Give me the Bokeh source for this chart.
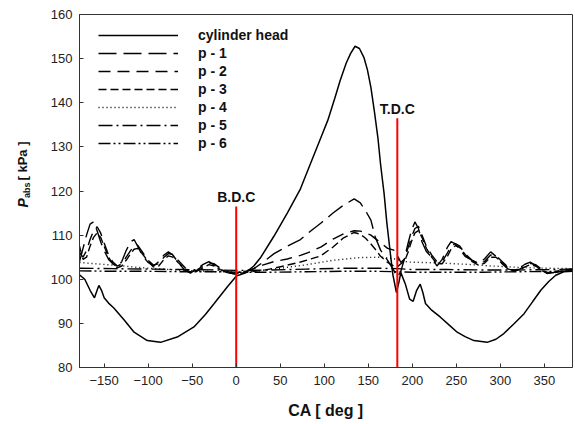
import math
from bokeh.plotting import figure
from bokeh.layouts import row
from bokeh.models import Range1d, Legend, LegendItem, FixedTicker
from bokeh.core.properties import value
from bokeh.embed import file_html
from bokeh.resources import INLINE

FONT = "Liberation Sans"

# ---------------- data ----------------
head_ca = [-178, -172, -166, -161, -158, -156, -153, -150, -145, -139, -127, -116,
           -101, -86, -67, -48, -35, -25, -10, 0, 10, 20, 28, 43, 58, 73, 85, 95,
           104, 112, 118, 125, 130, 135, 140, 145, 149, 153, 157, 161, 164, 168,
           171, 175, 178, 182, 185, 187, 192, 197, 201, 205, 209, 212, 215, 222,
           232, 242, 251, 260, 270, 285, 295, 304, 315, 327, 337, 346, 355, 363,
           372, 382]
head_p = [101.0, 100.0, 97.5, 95.8, 97.5, 98.6, 97.5, 95.8, 94.6, 93.5, 90.7, 88.0,
          86.1, 85.7, 86.9, 89.2, 92.0, 94.5, 98.3, 100.7, 101.4, 103.0, 105.0, 109.8,
          115.0, 120.5, 126.5, 131.5, 136.0, 141.0, 145.0, 149.0, 151.2, 152.8, 152.3,
          150.3, 147.5, 143.5, 138.0, 132.0, 126.0, 119.4, 113.0, 106.0, 101.0, 97.0,
          99.5, 101.5, 99.0, 95.5, 95.0, 97.5, 98.9, 97.0, 94.5, 93.0, 91.4, 89.6,
          88.0, 87.0, 86.1, 85.7, 86.4, 87.7, 89.8, 92.2, 95.0, 97.5, 99.5, 100.9,
          101.7, 101.8]

port_ca = [-178, -174, -170, -166, -162, -158, -154, -150, -145, -140, -135,
           -130, -125, -120, -116, -112, -106, -100, -94, -88, -82, -77,
           -72, -66, -58, -52, -45, -38, -31, -25, -18, -10, -4,
           0, 6, 12, 20, 30, 43, 58, 73, 85, 96, 110,
           122, 134, 141, 147, 153, 158, 164, 172, 179, 183, 187,
           191, 195, 199, 203, 207, 211, 216, 222, 228, 234, 240,
           244, 249, 254, 260, 268, 275, 282, 289, 295, 302, 309,
           315, 322, 328, 334, 340, 347, 353, 360, 367, 374, 382]
p1 = [104.0, 107.0, 110.0, 112.5, 113.0, 111.0, 108.5, 106.5, 104.5, 103.5, 102.8,
      104.0, 106.5, 108.5, 109.0, 107.5, 105.2, 103.8, 103.0, 104.0, 105.5, 106.2,
      105.5, 103.8, 102.0, 101.4, 102.3, 103.3, 104.0, 103.2, 102.2, 101.5, 101.3,
      101.2, 101.5, 101.8, 102.4, 103.8, 105.8, 107.5, 109.0, 111.0, 112.7, 115.0,
      116.8, 118.2, 117.3, 115.5, 113.4, 109.5, 106.6, 104.3, 102.0, 100.5, 101.8,
      104.5, 108.0, 111.0, 113.0, 111.5, 108.5, 106.3, 105.0, 103.0, 104.5, 107.3,
      108.5, 108.0, 106.8, 105.2, 104.3, 103.6, 104.6, 106.2, 105.2, 103.5, 102.3,
      102.0, 102.6, 103.4, 103.9, 103.1, 102.0, 101.3, 101.5, 101.9, 102.2, 102.3]
p2 = [106.0, 105.0, 106.5, 109.0, 111.0, 111.9, 110.5, 108.2, 105.5, 103.9, 103.0,
      103.5, 105.0, 106.5, 107.5, 107.7, 106.0, 104.3, 103.2, 103.5, 105.0, 105.8,
      105.6, 104.3, 102.6, 101.8, 102.0, 103.0, 103.7, 103.5, 102.5, 101.8, 101.4,
      101.3, 101.6, 101.9, 102.4, 103.2, 104.0, 104.6, 105.4, 106.3, 107.3, 109.1,
      110.3, 111.0, 110.9, 110.5, 110.0, 109.2, 108.3, 107.0, 106.6, 105.5, 103.8,
      104.5, 107.0, 109.5, 111.5, 112.0, 110.0, 107.5, 105.5, 104.0, 104.0, 106.0,
      107.5, 108.1, 107.5, 105.8, 104.3, 103.6, 104.0, 105.5, 105.4, 104.0, 102.7,
      102.1, 102.3, 103.0, 103.6, 103.3, 102.3, 101.6, 101.5, 101.8, 102.1, 102.2]
p3 = [107.5, 104.5, 105.0, 107.5, 109.5, 110.5, 109.5, 107.5, 105.0, 103.5, 102.6,
      103.0, 104.3, 105.8, 106.8, 107.0, 105.6, 104.0, 102.8, 103.0, 104.5, 105.3,
      105.0, 103.8, 102.3, 101.6, 101.8, 102.6, 103.3, 103.0, 102.2, 101.6, 101.3,
      101.2, 101.4, 101.6, 101.8, 102.0, 102.5, 103.2, 103.9, 104.6, 105.3, 107.3,
      109.4, 110.6, 110.2, 109.3, 108.0, 106.8, 105.2, 103.8, 103.0, 102.8, 103.5,
      104.0, 106.0, 108.5, 110.5, 111.0, 109.5, 107.0, 105.0, 103.5, 103.5, 105.2,
      106.8, 107.6, 107.2, 105.6, 104.0, 103.2, 103.6, 105.0, 105.0, 103.8, 102.5,
      101.9, 102.1, 102.8, 103.3, 103.0, 102.1, 101.5, 101.4, 101.7, 102.0, 102.1]

p4_ca = [-178, -140, -100, -60, -20, 0, 20, 50, 80, 110, 140, 165, 180, 195, 230,
         260, 290, 320, 350, 382]
p4 = [103.8, 103.2, 102.5, 102.0, 101.7, 101.6, 101.8, 102.5, 103.3, 104.3, 104.9,
      105.0, 104.6, 103.9, 103.7, 103.4, 103.0, 102.7, 102.5, 102.4]

p56_ca = [-178, -140, -100, -60, -20, 0, 40, 80, 120, 160, 183, 200, 240, 280, 320,
          360, 382]
p5 = [102.5, 102.4, 102.3, 102.2, 102.1, 102.0, 102.1, 102.3, 102.5, 102.5, 102.4,
      102.2, 102.2, 102.1, 102.1, 102.2, 102.3]
p6 = [101.9, 101.8, 101.8, 101.7, 101.7, 101.6, 101.6, 101.7, 101.8, 101.8, 101.7,
      101.6, 101.6, 101.6, 101.7, 101.8, 101.9]

marker_ca = [0, 183]
marker_top = [116.5, 136.5]
marker_names = ["B.D.C", "T.D.C"]

x_ticks = [-150, -100, -50, 0, 50, 100, 150, 200, 250, 300, 350]
y_ticks = [80, 90, 100, 110, 120, 130, 140, 150, 160]

series_names = ["cylinder head", "p - 1", "p - 2", "p - 3", "p - 4", "p - 5", "p - 6"]

y_title_parts = ["P", "abs", "[ kPa ]"]

# ---------------- main figure ----------------
TITLE_W = 40
p = figure(width=575 - TITLE_W, height=424, output_backend="svg",
           toolbar_location=None,
           x_range=Range1d(-178, 382), y_range=Range1d(80, 160),
           min_border_left=79 - TITLE_W, min_border_right=3, min_border_top=14,
           min_border_bottom=57)
p.grid.visible = False
p.background_fill_color = "white"
p.outline_line_color = "#333333"
p.outline_line_width = 1

for ax in (p.xaxis, p.yaxis):
    ax.axis_line_color = "#333333"
    ax.major_tick_line_color = "#333333"
    ax.major_tick_in = 4
    ax.major_tick_out = 0
    ax.minor_tick_line_color = None
    ax.major_label_text_font = FONT
    ax.major_label_text_font_size = "13px"
    ax.major_label_text_color = "#222222"

p.xaxis.ticker = FixedTicker(ticks=x_ticks)
p.yaxis.ticker = FixedTicker(ticks=y_ticks)
p.xaxis.major_label_standoff = 8
p.yaxis.major_label_standoff = 7
p.xaxis.axis_label = "CA [ deg ]"
p.xaxis.axis_label_text_font = FONT
p.xaxis.axis_label_text_font_style = "bold"
p.xaxis.axis_label_text_font_size = "16px"
p.xaxis.axis_label_text_color = "#111111"
p.xaxis.axis_label_standoff = 14

lw = 1.4
r_head = p.line(head_ca, head_p, line_color="black", line_width=1.5)
r1 = p.line(port_ca, p1, line_color="black", line_width=lw, line_dash="18 7")
r2 = p.line(port_ca, p2, line_color="black", line_width=lw, line_dash="12 7")
r3 = p.line(port_ca, p3, line_color="black", line_width=lw, line_dash="8 4")
r4 = p.line(p4_ca, p4, line_color="black", line_width=lw, line_dash="1 3")
r5 = p.line(p56_ca, p5, line_color="black", line_width=lw, line_dash="14 4 2 4")
r6 = p.line(p56_ca, p6, line_color="black", line_width=lw, line_dash="12 3 2 3 2 3")

# BDC / TDC markers
p.segment(x0=marker_ca, y0=[80, 80], x1=marker_ca, y1=marker_top,
          line_color="red", line_width=2)
p.text(x=marker_ca, y=marker_top, text=marker_names, text_align="center",
       text_baseline="bottom", y_offset=-1, text_font=value(FONT),
       text_font_style="bold", text_font_size="14px", text_color="#111111")

legend = Legend(items=[LegendItem(label=n, renderers=[r]) for n, r in
                       zip(series_names, [r_head, r1, r2, r3, r4, r5, r6])],
                location=(19, 215), padding=0, margin=0, spacing=0,
                glyph_width=80, glyph_height=18, label_height=18,
                label_standoff=20, border_line_color=None,
                background_fill_alpha=0,
                label_text_font=FONT, label_text_font_style="bold",
                label_text_font_size="14px", label_text_color="#111111")
p.add_layout(legend)

# ---------------- y-axis title panel ----------------
t = figure(width=TITLE_W, height=424, output_backend="svg", toolbar_location=None,
           x_range=Range1d(0, TITLE_W), y_range=Range1d(80, 160),
           x_axis_location=None, y_axis_location=None,
           min_border_left=0, min_border_right=0, min_border_top=14,
           min_border_bottom=57)
t.grid.visible = False
t.outline_line_color = None

PX = 80 / 353.0  # kPa per pixel
y_start = 80 + (367 - 207) * PX
t.text(x=[22], y=[y_start], text=[y_title_parts[0]], angle=math.pi / 2,
       text_align="left", text_baseline="middle", text_font=value(FONT),
       text_font_style="bold italic", text_font_size="14px", text_color="#111111")
t.text(x=[26], y=[y_start + 9.5 * PX], text=[y_title_parts[1]], angle=math.pi / 2,
       text_align="left", text_baseline="middle", text_font=value(FONT),
       text_font_style="bold", text_font_size="9px", text_color="#111111")
t.text(x=[22], y=[y_start + 27 * PX], text=[y_title_parts[2]], angle=math.pi / 2,
       text_align="left", text_baseline="middle", text_font=value(FONT),
       text_font_style="bold", text_font_size="13px", text_color="#111111")

layout = row(t, p, spacing=0)
open("out.html", "w").write(file_html(layout, INLINE))
